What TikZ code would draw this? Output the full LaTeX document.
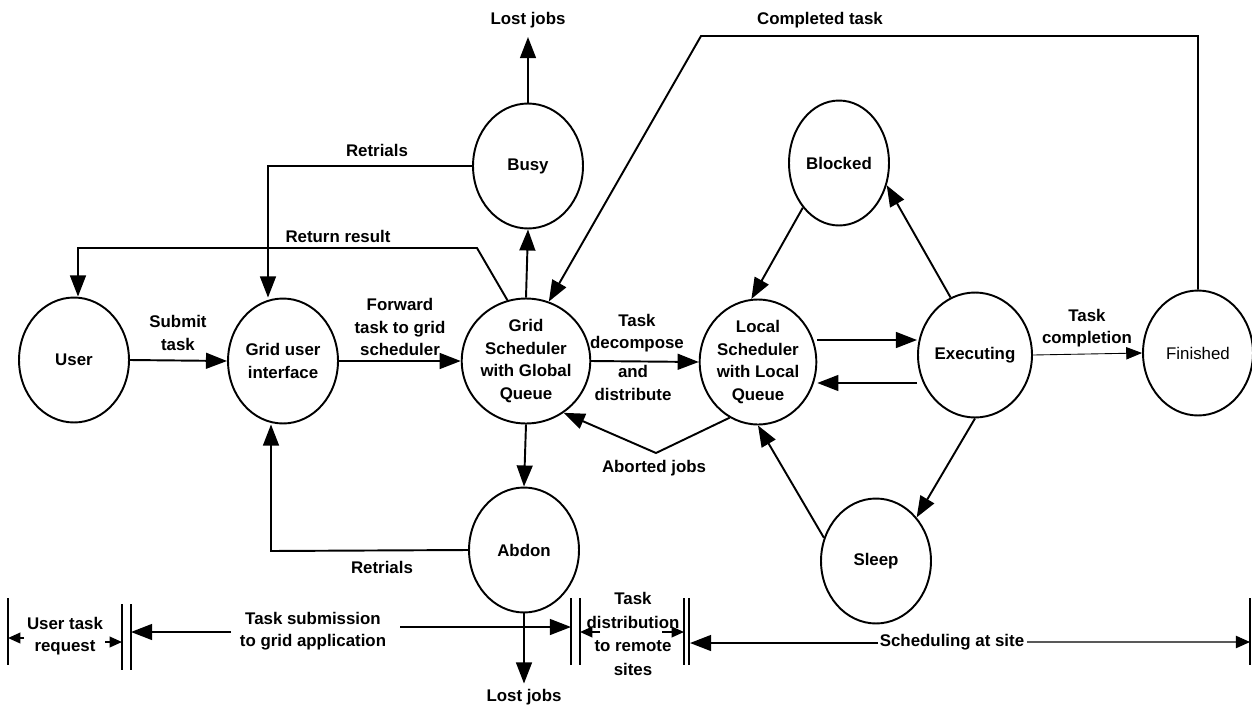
\documentclass[tikz,border=0pt]{standalone}
\usepackage{fontspec}
\setmainfont{Liberation Sans}
\usetikzlibrary{shapes.geometric,arrows.meta}
\begin{document}
\begin{tikzpicture}[x=0.02cm,y=-0.02cm,
  st/.style={ellipse,draw,line width=1.1pt,minimum width=2.2cm,minimum height=2.5cm,inner sep=0pt,align=center,font=\fontsize{9.6}{12.8}\selectfont\bfseries},
  lbl/.style={align=center,inner sep=1pt,font=\fontsize{9.6}{12.8}\selectfont\bfseries},
  ln/.style={line width=1.1pt},
  arr/.style={ln,-{Triangle[length=12pt,width=9pt]}},
  sarr/.style={ln,-{Triangle[length=7pt,width=6pt]}},
  thinarr/.style={line width=0.5pt,-{Triangle[length=9pt,width=7pt]}},
  bar/.style={line width=1.1pt}]
\useasboundingbox (0,0) rectangle (1252,707);
% states
\node[st] (user) at (74,360) {User};
\node[st] (gui) at (283,361) {Grid user\\interface};
\node[st] (gs) at (526,361) {Grid\\Scheduler\\with Global\\Queue};
\node[st] (ls) at (758,362) {Local\\Scheduler\\with Local\\Queue};
\node[st] (exec) at (975,355) {Executing};
\node[st,font=\fontsize{9.6}{12.8}\selectfont] (fin) at (1198,353) {Finished};
\node[st] (busy) at (528,166) {Busy};
\node[st,minimum width=2.0cm] (blocked) at (839,163) {Blocked};
\node[st] (abdon) at (524,550) {Abdon};
\node[st] (sleep) at (876,561) {Sleep};
% labels
\node[lbl] (lsubmit) at (178,333) {Submit\\task};
\node[lbl] (lfwd) at (400,327) {Forward\\task to grid\\scheduler};
\node[lbl] (ltdec) at (637,333) {Task\\decompose};
\node[lbl] (land) at (633,383) {and\\distribute};
\node[lbl] (ltc) at (1087,328) {Task\\completion};
\node[lbl] (lct) at (820,20) {Completed task};
\node[lbl] (lost1) at (528,20) {Lost jobs};
\node[lbl] (lret1) at (377,150) {Retrials};
\node[lbl] (lrr) at (338,236) {Return result};
\node[lbl] (lab) at (654,468) {Aborted jobs};
\node[lbl] (lret2) at (382,567) {Retrials};
\node[lbl] (lost2) at (524,697) {Lost jobs};
% connectors
\draw[arr] (user.east) -- (gui.west);
\draw[arr] (gui.east) -- (gs.west);
\draw[arr] (gs.east) -- (ls.west);
\coordinate (u1) at ([yshift=0.44cm]ls.east);
\draw[arr] (u1) -- (u1 -| exec.west);
\coordinate (d1) at ([yshift=-0.56cm]exec.west);
\draw[arr] (d1) -- (d1 -| ls.east);
\draw[thinarr] (exec.east) -- (fin.west);
\coordinate (ct) at (701,36);
\draw[arr] (fin.north) |- (ct) -- (gs.69);
\draw[arr,shorten >=4pt] (busy.north) -- (lost1.south);
\draw[arr] (gs.north) -- (busy.south);
\coordinate (r1) at (268,166);
\draw[arr] (busy.west) -- (r1) -- (r1 |- gui.north);
\coordinate (rr1) at (477,248);
\coordinate (rr2) at (78,248);
\draw[arr] (gs.107) -- (rr1) -- (rr2) -- (rr2 |- user.north);
\draw[arr] (gs.south) -- (abdon.north);
\coordinate (r2) at (271,551);
\draw[arr] (abdon.west) -- (r2) -- (r2 |- gui.south);
\coordinate (abk) at (656,453);
\draw[arr] (ls.243) -- (abk) -- (gs.306);
\draw[arr] (blocked.231) -- (ls.96);
\draw[arr] (exec.113) -- (blocked.335);
\draw[arr] (exec.south) -- (sleep.47);
\draw[arr] (sleep.156) -- (ls.south);
\draw[arr,shorten >=2pt] (abdon.south) -- (lost2.north);
% timeline
\draw[bar] (8,598) -- (8,665);
\node[lbl] (lutr) at (65,636) {User task\\request};
\draw[sarr] (24,638) -- (8,638);
\draw[sarr] (105,642) -- (122,642);
\draw[bar] (122,604) -- (122,670);
\draw[bar] (131,604) -- (131,670);
\node[lbl] (ltsub) at (313,631) {Task submission\\to grid application};
\draw[arr] (231,632) -- (131,632);
\draw[arr] (400,627) -- (571,627);
\draw[bar] (571,598) -- (571,665);
\draw[bar] (580,598) -- (580,665);
\node[lbl,font=\fontsize{9.6}{13.6}\selectfont\bfseries] (ltdist) at (633,634) {Task\\distribution\\to remote\\sites};
\draw[sarr] (600,632) -- (580,632);
\draw[sarr] (662,632) -- (684,632);
\draw[bar] (684,598) -- (684,665);
\draw[bar] (689,598) -- (689,665);
\draw[arr] (878,643) -- (690,643);
\node[lbl] (lsched) at (952,642) {Scheduling at site};
\draw[line width=0.6pt,gray!70!black,-{Triangle[length=8pt,width=7pt,color=black]}] (1027,642) -- (1250,642);
\draw[bar] (1250,598) -- (1250,665);
\end{tikzpicture}
\end{document}
